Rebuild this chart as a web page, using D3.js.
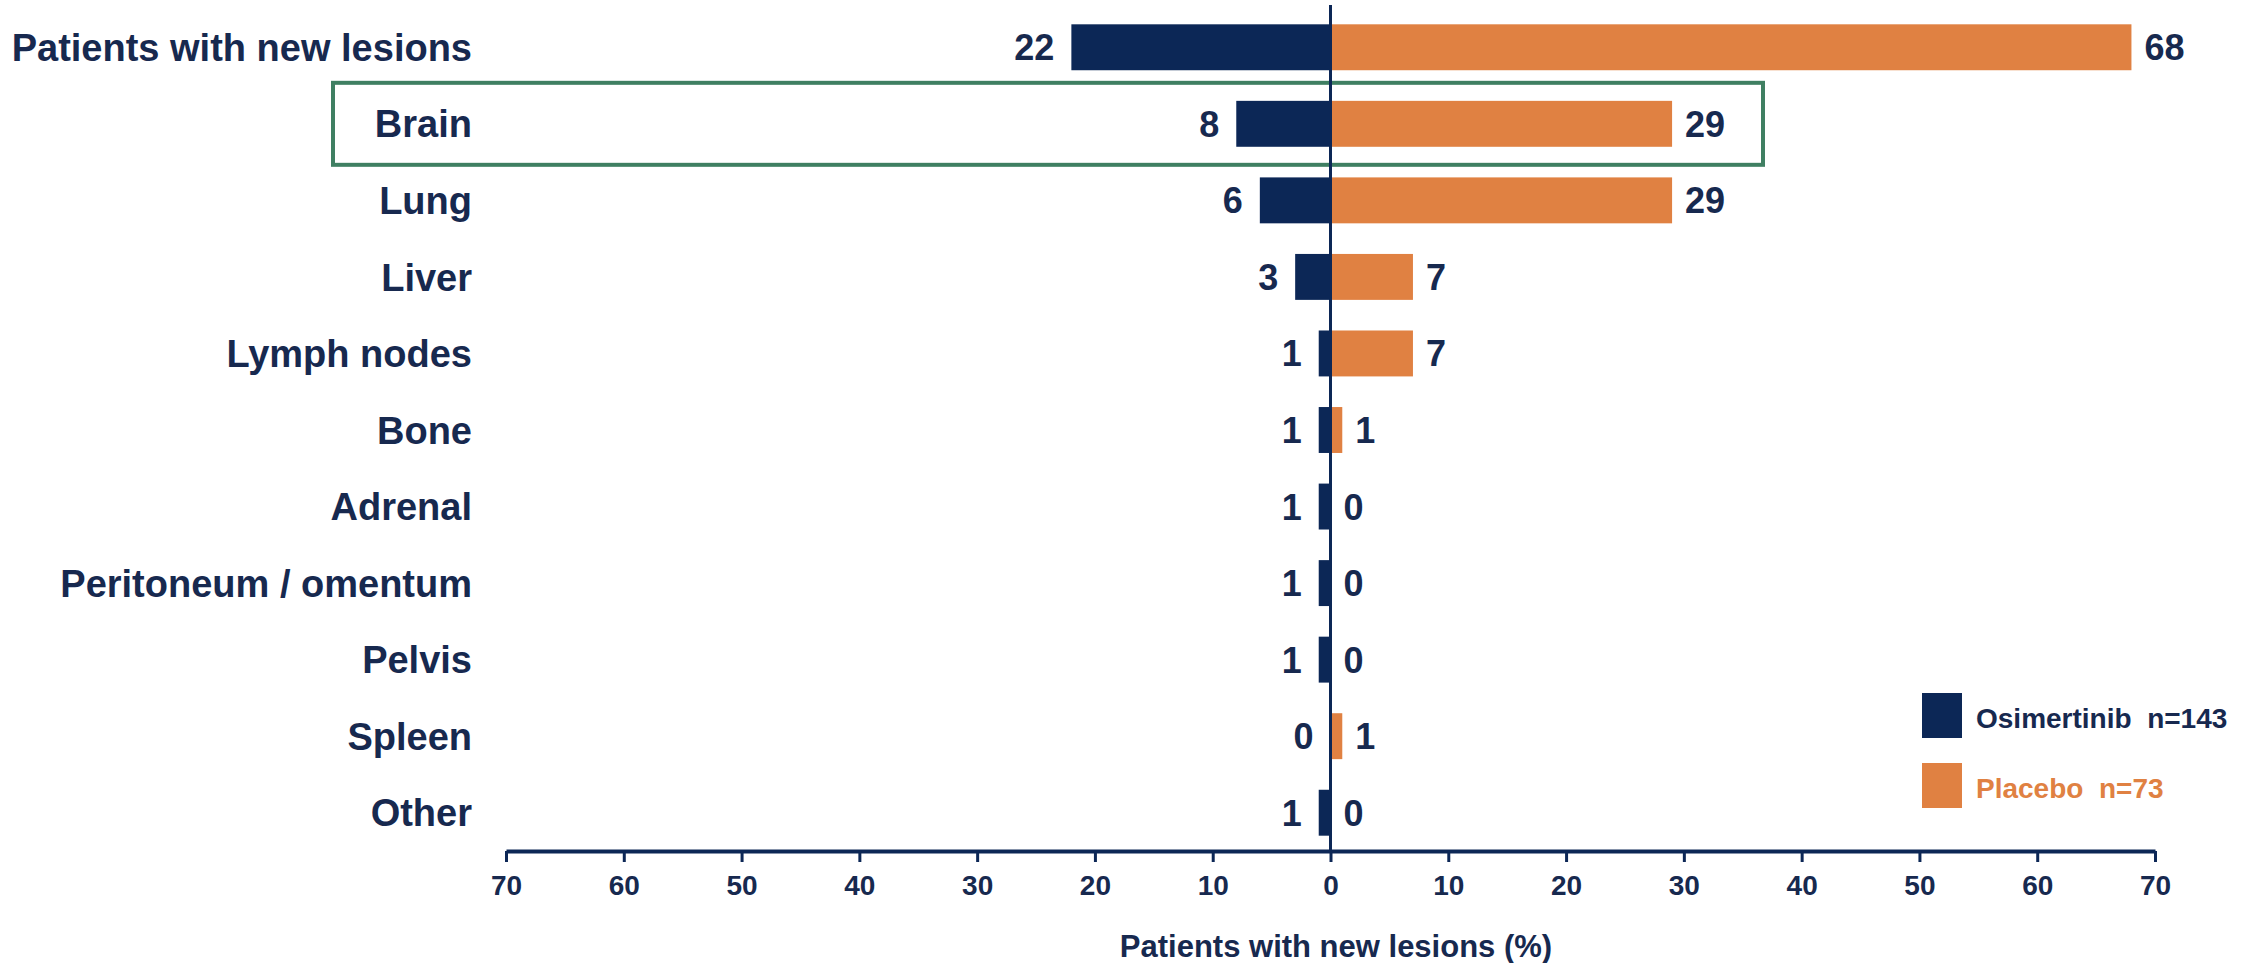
<!DOCTYPE html>
<html>
<head>
<meta charset="utf-8">
<script src="https://cdn.jsdelivr.net/npm/d3@7"></script>
<style>
  html, body { margin: 0; padding: 0; background: #ffffff; }
  svg { display: block; font-family: "Liberation Sans", Arial, sans-serif; font-weight: bold; }
</style>
</head>
<body>
<svg id="chart" width="2252" height="963"></svg>
<script>
// Sites of new lesions, % of patients in each arm
const categories = ["Patients with new lesions", "Brain", "Lung", "Liver", "Lymph nodes",
  "Bone", "Adrenal", "Peritoneum / omentum", "Pelvis", "Spleen", "Other"];
const osimertinib = [22, 8, 6, 3, 1, 1, 1, 1, 1, 0, 1];
const placebo = [68, 29, 29, 7, 7, 1, 0, 0, 0, 1, 0];
const tickValues = [-70, -60, -50, -40, -30, -20, -10, 0, 10, 20, 30, 40, 50, 60, 70];
const seriesNames = ["Osimertinib  n=143", "Placebo  n=73"];
const highlighted = "Brain";

const NAVY = "#0c2756";
const ORANGE = "#e08142";
const TEXT = "#17294f";
const GREEN = "#3f7f62";

const svg = d3.select("#chart");

const x = d3.scaleLinear().domain([-70, 70]).range([506, 2155]);
const y = d3.scaleBand().domain(categories).range([9, 851])
  .paddingInner(0.4).paddingOuter(0.2);

// highlight frame around the brain row
const hy = y(highlighted) + y.bandwidth() / 2;
svg.append("rect")
  .attr("x", 333).attr("y", hy - 41)
  .attr("width", 1763 - 333).attr("height", 82)
  .attr("fill", "none").attr("stroke", GREEN).attr("stroke-width", 4);

// bars: osimertinib to the left, placebo to the right
svg.append("g").selectAll("rect").data(categories).join("rect")
  .attr("x", (d, i) => x(-osimertinib[i]))
  .attr("y", d => y(d))
  .attr("width", (d, i) => x(0) - x(-osimertinib[i]))
  .attr("height", y.bandwidth())
  .attr("fill", NAVY);

svg.append("g").selectAll("rect").data(categories).join("rect")
  .attr("x", x(0))
  .attr("y", d => y(d))
  .attr("width", (d, i) => x(placebo[i]) - x(0))
  .attr("height", y.bandwidth())
  .attr("fill", ORANGE);

// value labels
svg.append("g").selectAll("text").data(categories).join("text")
  .attr("x", (d, i) => x(-osimertinib[i]) - 17)
  .attr("y", d => y(d) + y.bandwidth() / 2)
  .attr("dy", "0.36em")
  .attr("text-anchor", "end")
  .attr("font-size", 36)
  .attr("fill", TEXT)
  .text((d, i) => osimertinib[i]);

svg.append("g").selectAll("text").data(categories).join("text")
  .attr("x", (d, i) => x(placebo[i]) + 13)
  .attr("y", d => y(d) + y.bandwidth() / 2)
  .attr("dy", "0.36em")
  .attr("text-anchor", "start")
  .attr("font-size", 36)
  .attr("fill", TEXT)
  .text((d, i) => placebo[i]);

// category labels
svg.append("g").selectAll("text").data(categories).join("text")
  .attr("x", 472)
  .attr("y", d => y(d) + y.bandwidth() / 2)
  .attr("dy", "0.36em")
  .attr("text-anchor", "end")
  .attr("font-size", 38)
  .attr("fill", TEXT)
  .text(d => d);

// zero line
svg.append("line")
  .attr("x1", x(0)).attr("x2", x(0))
  .attr("y1", 5).attr("y2", 851)
  .attr("stroke", NAVY).attr("stroke-width", 3);

// bottom axis with absolute tick values
const axis = svg.append("g")
  .attr("transform", "translate(0,851)")
  .call(d3.axisBottom(x).tickValues(tickValues)
    .tickFormat(d => Math.abs(d)).tickSize(11).tickSizeOuter(0).tickPadding(13));
axis.select(".domain").attr("stroke", NAVY).attr("stroke-width", 4);
axis.selectAll(".tick line").attr("stroke", NAVY).attr("stroke-width", 3);
axis.selectAll(".tick text")
  .attr("fill", TEXT)
  .attr("font-size", 28)
  .attr("font-family", "Liberation Sans, Arial, sans-serif")
  .attr("font-weight", "bold");

svg.append("text")
  .attr("x", 1336).attr("y", 957)
  .attr("text-anchor", "middle")
  .attr("font-size", 31)
  .attr("fill", TEXT)
  .text("Patients with new lesions (%)");

// legend
const legendColors = [NAVY, ORANGE];
const legendText = [TEXT, ORANGE];
const legend = svg.append("g").selectAll("g").data(seriesNames).join("g")
  .attr("transform", (d, i) => `translate(1922, ${693 + i * 70})`);
legend.append("rect")
  .attr("width", 40).attr("height", 45)
  .attr("fill", (d, i) => legendColors[i]);
legend.append("text")
  .attr("x", 54).attr("y", 35)
  .attr("font-size", 28)
  .attr("fill", (d, i) => legendText[i])
  .attr("xml:space", "preserve")
  .style("white-space", "pre")
  .text(d => d);
</script>
</body>
</html>
